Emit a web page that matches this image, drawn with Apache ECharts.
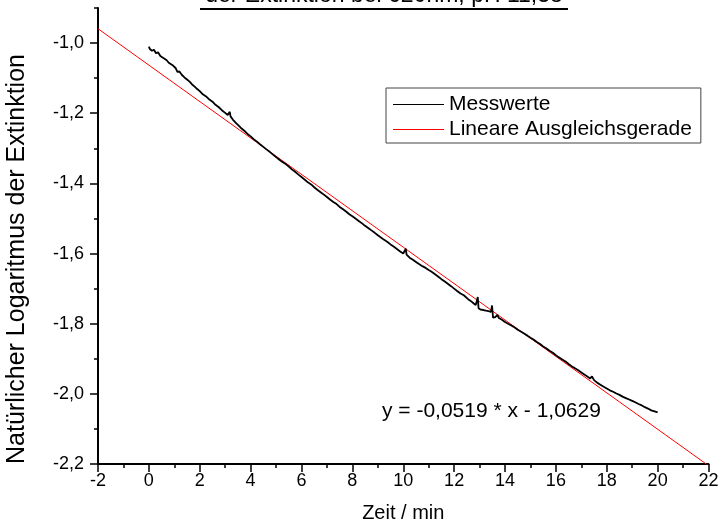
<!DOCTYPE html>
<html><head><meta charset="utf-8">
<script src="https://cdn.jsdelivr.net/npm/echarts@6/dist/echarts.min.js"></script>
<style>html,body{margin:0;padding:0;background:#fff}#c{width:723px;height:530px}</style>
</head><body><div id="c"></div>
<script>
// ---- data ----
const timeMin = [0.00,0.04,0.08,0.12,0.20,0.28,0.36,0.45,0.52,0.60,0.70,0.78,0.85,0.95,1.05,1.12,1.20,1.30,1.40,1.50,1.60,1.70,1.80,1.90,2.00,2.12,2.25,2.38,2.50,2.62,2.75,2.88,3.00,3.10,3.16,3.18,3.21,3.30,3.40,3.50,3.62,3.75,3.88,4.00,4.12,4.25,4.38,4.50,4.62,4.75,4.88,5.00,5.12,5.25,5.38,5.50,5.62,5.75,5.88,6.00,6.12,6.25,6.38,6.50,6.62,6.75,6.88,7.00,7.12,7.25,7.38,7.50,7.62,7.75,7.88,8.00,8.12,8.25,8.38,8.50,8.62,8.75,8.88,9.00,9.12,9.25,9.38,9.50,9.62,9.75,9.88,10.00,10.07,10.10,10.13,10.25,10.38,10.50,10.62,10.75,10.88,11.00,11.10,11.16,11.25,11.38,11.50,11.62,11.75,11.88,12.00,12.12,12.25,12.38,12.45,12.55,12.65,12.75,12.85,12.91,12.93,12.96,13.05,13.15,13.25,13.35,13.45,13.49,13.53,13.62,13.70,13.76,13.88,14.00,14.12,14.25,14.38,14.50,14.62,14.75,14.88,15.00,15.12,15.25,15.38,15.50,15.62,15.75,15.88,16.00,16.12,16.25,16.38,16.50,16.62,16.75,16.88,17.00,17.12,17.25,17.35,17.42,17.50,17.62,17.75,17.88,18.00,18.12,18.25,18.38,18.50,18.62,18.75,18.88,19.00,19.12,19.25,19.38,19.50,19.62,19.75,19.88,20.00];
const lnExt = [-1.010,-1.017,-1.013,-1.022,-1.019,-1.029,-1.026,-1.037,-1.034,-1.044,-1.049,-1.056,-1.053,-1.064,-1.071,-1.082,-1.081,-1.091,-1.098,-1.104,-1.110,-1.118,-1.124,-1.131,-1.137,-1.146,-1.152,-1.161,-1.167,-1.176,-1.183,-1.192,-1.199,-1.205,-1.208,-1.196,-1.209,-1.218,-1.226,-1.233,-1.242,-1.250,-1.259,-1.266,-1.274,-1.281,-1.289,-1.296,-1.303,-1.310,-1.318,-1.325,-1.332,-1.339,-1.345,-1.352,-1.360,-1.367,-1.375,-1.382,-1.389,-1.397,-1.403,-1.411,-1.418,-1.425,-1.432,-1.439,-1.446,-1.453,-1.459,-1.467,-1.473,-1.480,-1.488,-1.494,-1.500,-1.507,-1.514,-1.521,-1.527,-1.534,-1.541,-1.548,-1.554,-1.561,-1.567,-1.574,-1.580,-1.587,-1.594,-1.600,-1.604,-1.586,-1.603,-1.612,-1.618,-1.624,-1.630,-1.636,-1.641,-1.647,-1.651,-1.649,-1.659,-1.666,-1.673,-1.679,-1.686,-1.693,-1.700,-1.707,-1.714,-1.719,-1.717,-1.730,-1.735,-1.741,-1.747,-1.752,-1.724,-1.756,-1.760,-1.761,-1.763,-1.764,-1.766,-1.748,-1.783,-1.781,-1.775,-1.784,-1.789,-1.795,-1.800,-1.805,-1.811,-1.817,-1.822,-1.828,-1.834,-1.840,-1.845,-1.852,-1.858,-1.865,-1.870,-1.877,-1.883,-1.890,-1.896,-1.902,-1.908,-1.915,-1.921,-1.927,-1.933,-1.939,-1.945,-1.951,-1.956,-1.950,-1.961,-1.968,-1.974,-1.980,-1.985,-1.990,-1.994,-1.999,-2.003,-2.008,-2.012,-2.016,-2.020,-2.024,-2.029,-2.033,-2.038,-2.042,-2.047,-2.050,-2.053];
const fitX = [-2, 22];
const fitY = [-0.9591, -2.2047];
const yTickValues = [-2.2,-2.0,-1.8,-1.6,-1.4,-1.2,-1.0];
const yMinorTickValues = [-2.1,-1.9,-1.7,-1.5,-1.3,-1.1,-0.9];
const seriesNames = ['Messwerte', 'Lineare Ausgleichsgerade'];
const titleText = 'der Extinktion bei 620nm, pH 11,38';
const equationText = 'y = -0,0519 * x - 1,0629';
const xAxisName = 'Zeit / min';
const yAxisName = 'Natürlicher Logaritmus der Extinktion';

const FONT = '"Liberation Sans", Arial, Helvetica, sans-serif';
const measured = timeMin.map((t, i) => [t, lnExt[i]]);
const fitLine = fitX.map((t, i) => [t, fitY[i]]);

const chart = echarts.init(document.getElementById('c'), null, {renderer: 'canvas'});
chart.setOption({
  animation: false,
  backgroundColor: '#fff',
  textStyle: {fontFamily: FONT},
  grid: {left: 98, right: 14.5, top: 8, bottom: 66, containLabel: false, outerBoundsMode: 'none'},
  legend: {
    data: seriesNames,
    orient: 'vertical',
    left: 386, top: 88,
    padding: [6, 9, 3, 7],
    icon: 'rect',
    itemWidth: 51, itemHeight: 1, itemGap: 4,
    borderColor: '#444', borderWidth: 1, borderRadius: 0,
    backgroundColor: '#fff',
    textStyle: {fontSize: 21, color: '#000', fontFamily: FONT}
  },
  xAxis: {
    type: 'value', min: -2, max: 22, interval: 2,
    name: xAxisName, nameLocation: 'middle', nameGap: 39,
    nameTextStyle: {fontSize: 20, color: '#000', fontFamily: FONT},
    axisLine: {onZero: false, lineStyle: {color: '#000', width: 2}},
    axisTick: {length: 8, lineStyle: {color: '#000', width: 1.5}},
    minorTick: {show: true, splitNumber: 2, length: 4, lineStyle: {color: '#000', width: 1.5}},
    axisLabel: {margin: 8, fontSize: 18, color: '#000', fontFamily: FONT, formatter: v => String(v)},
    splitLine: {show: false}, minorSplitLine: {show: false}
  },
  yAxis: [{
    type: 'value', min: -2.2, max: -0.9, interval: 0.2, position: 'left',
    name: yAxisName, nameLocation: 'middle', nameGap: 68,
    nameTextStyle: {fontSize: 25, color: '#000', fontFamily: FONT, padding: [0, 46, 0, 0]},
    axisLine: {onZero: false, lineStyle: {color: '#000', width: 2}},
    axisTick: {length: 8, customValues: yTickValues, lineStyle: {color: '#000', width: 1.5}},
    axisLabel: {margin: 14, fontSize: 18, color: '#000', fontFamily: FONT, customValues: yTickValues,
      formatter: v => v.toFixed(1).replace('.', ',')},
    splitLine: {show: false}
  }, {
    type: 'value', min: -2.2, max: -0.9, position: 'left',
    axisLine: {show: false, onZero: false},
    axisTick: {show: true, length: 4, customValues: yMinorTickValues, lineStyle: {color: '#000', width: 1.5}},
    axisLabel: {show: false},
    splitLine: {show: false}
  }],
  series: [{
    name: seriesNames[0], type: 'line', data: measured, z: 3,
    showSymbol: false, symbol: 'none', clip: true,
    lineStyle: {color: '#000', width: 1.8}, itemStyle: {color: '#000'}
  }, {
    name: seriesNames[1], type: 'line', data: fitLine, z: 2,
    showSymbol: false, symbol: 'none', clip: true,
    lineStyle: {color: '#ff0000', width: 1}, itemStyle: {color: '#ff0000'}
  }],
  graphic: [{
    type: 'text', x: 384, y: -4, z: 10,
    style: {text: titleText, font: '23px ' + FONT, fill: '#000', align: 'center', verticalAlign: 'middle'}
  }, {
    type: 'rect', z: 10, shape: {x: 200, y: 8, width: 368, height: 2}, style: {fill: '#000'}
  }, {
    type: 'text', x: 382, y: 411, z: 10,
    style: {text: equationText, font: '21px ' + FONT, fill: '#000', align: 'left', verticalAlign: 'middle'}
  }]
});
</script></body></html>
